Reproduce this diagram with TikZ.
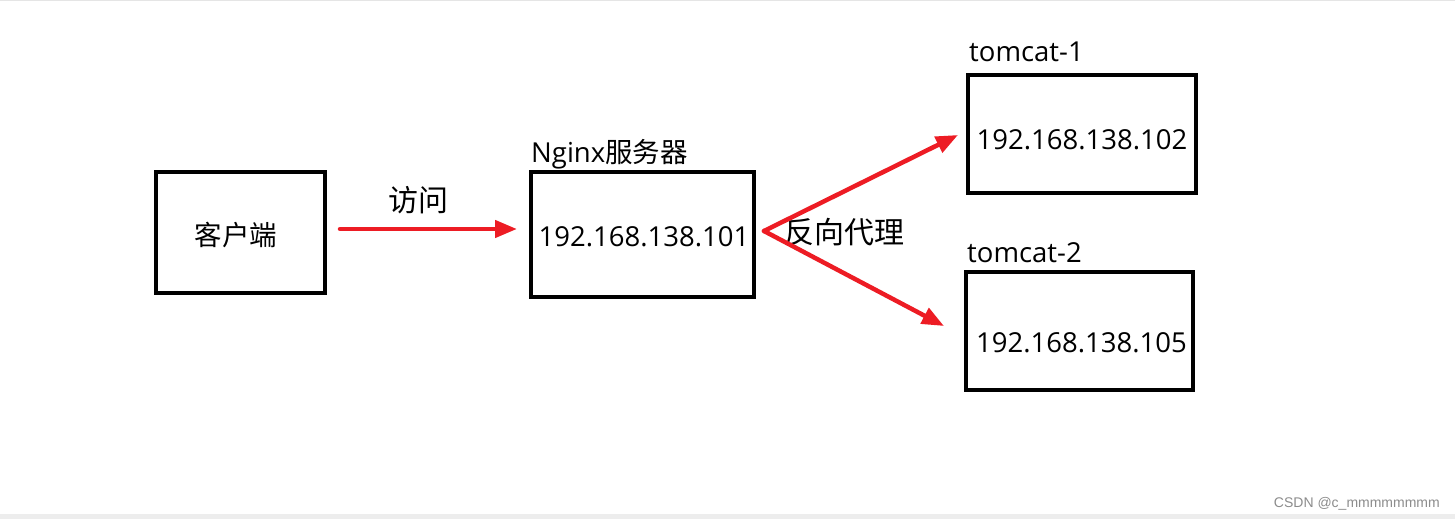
\documentclass[tikz,border=0pt]{standalone}
\usepackage{fontspec}
\setmainfont{Open Sans}
\newfontfamily\cjk{Noto Sans CJK SC}
\newfontfamily\wm{Liberation Sans}
\usetikzlibrary{arrows.meta}
\definecolor{arrred}{HTML}{ED1C24}
\tikzset{
  box/.style={draw=black, line width=4.2pt, fill=white, inner sep=0pt},
  redarrow/.style={draw=arrred, line width=4.5pt, line cap=round, -{Triangle[length=22pt,width=17pt]}},
  lbl/.style={inner sep=0pt, anchor=base west},
}
\begin{document}
\begin{tikzpicture}[x=1pt,y=-1pt]
\fill[white] (0,0) rectangle (1455,519);
\useasboundingbox (0,0) rectangle (1455,519);
\fill[black!10] (0,0) rectangle (1455,1.5);
\fill[black!7] (0,514) rectangle (1455,519);
% boxes
\node[box, minimum width=169pt, minimum height=121pt] (client) at (240.5,232.5) {};
\node[inner sep=0pt] at (236,235) {\fontsize{27.5}{27.5}\cjk 客户端};
\node[box, minimum width=223pt, minimum height=125pt] (nginx) at (642.5,234.5) {};
\node[inner sep=0pt] at (644,237) {\fontsize{27.5}{27.5}\selectfont 192.168.138.101};
\node[box, minimum width=228pt, minimum height=118pt] (t1) at (1082,134) {};
\node[inner sep=0pt] at (1082,140) {\fontsize{27.5}{27.5}\selectfont 192.168.138.102};
\node[box, minimum width=227pt, minimum height=118pt] (t2) at (1079.5,331) {};
\node[inner sep=0pt] at (1081.5,343) {\fontsize{27.5}{27.5}\selectfont 192.168.138.105};
% labels
\node[lbl] (nl) at (531,162) {\fontsize{27.5}{27.5}\selectfont Nginx{\cjk 服务器}};
\node[lbl] (t1l) at (969,62) {\fontsize{27.5}{27.5}\selectfont tomcat-1};
\node[lbl] (t2l) at (967,262) {\fontsize{27.5}{27.5}\selectfont tomcat-2};
\node[inner sep=0pt] (fw) at (418,200) {\fontsize{30}{30}\cjk 访问};
\node[inner sep=0pt] (fx) at (844,232) {\fontsize{30}{30}\cjk 反向代理};
% arrows
\coordinate (a1s) at (340,229);
\coordinate (a1e) at (517,229);
\draw[redarrow] (a1s) -- (a1e);
\coordinate (ps) at (764,231);
\coordinate (p1e) at (958,135);
\coordinate (p2e) at (944,326);
\draw[redarrow] (ps) -- (p1e);
\draw[redarrow] (ps) -- (p2e);
% watermark
\node[inner sep=0pt, anchor=base east, text=black!45] (wmk) at (1440,507) {\fontsize{14}{14}\wm CSDN @c\_mmmmmmmm};
\end{tikzpicture}
\end{document}
